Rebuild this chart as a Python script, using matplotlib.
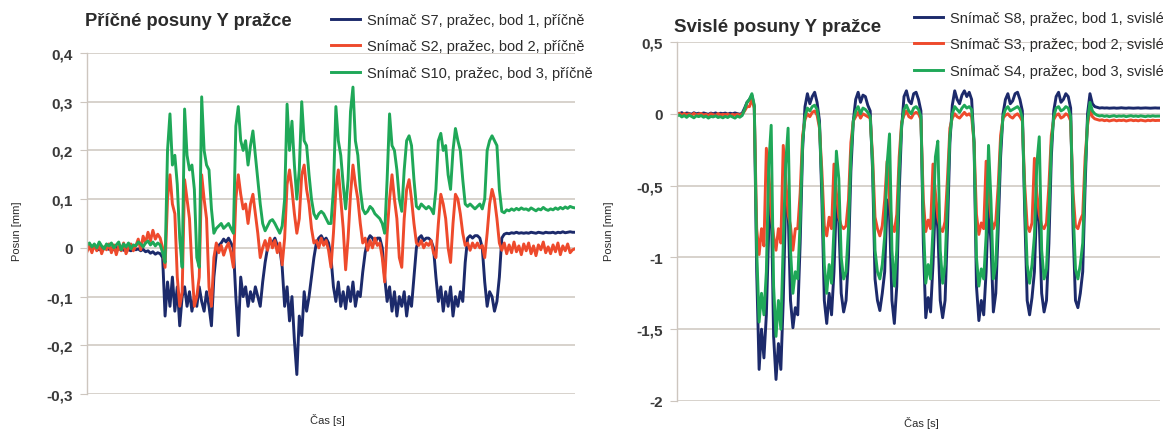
import numpy as np
import matplotlib
matplotlib.use("Agg")
import matplotlib.pyplot as plt

plt.rcParams['font.family'] = ['Liberation Sans', 'DejaVu Sans']

# ---------------- data ----------------
# time axis: position along the (unlabelled) time axis, in % of record length
n_samples = 201
time_pct = np.arange(n_samples) * 0.5

# Left chart – Příčné posuny Y pražce (mm)
s7_lat = [
    0.004, 0.000, -0.004, 0.002, -0.001, -0.004, 0.002, -0.002, 0.001, -0.003,
    0.000, -0.004, 0.002, -0.003, -0.001, -0.005, 0.000, -0.004, -0.006, -0.002,
    -0.004, -0.002, -0.006, -0.003, -0.008, -0.006, -0.011, -0.008, -0.013, -0.010,
    -0.012, -0.020, -0.14, -0.07, -0.12, -0.06, -0.13, -0.08, -0.16, -0.10,
    -0.08, -0.12, -0.09, -0.13, -0.10, -0.12, -0.08, -0.11, -0.13, -0.09,
    -0.12, -0.16, -0.06, -0.01, 0.005, 0.010, 0.018, 0.012, 0.020, 0.010,
    0.00, -0.10, -0.18, -0.06, -0.10, -0.08, -0.12, -0.09, -0.11, -0.08,
    -0.10, -0.12, -0.07, -0.03, 0.00, 0.015, 0.010, 0.020, 0.005, 0.000,
    -0.04, -0.12, -0.08, -0.15, -0.10, -0.19, -0.26, -0.14, -0.18, -0.09,
    -0.13, -0.10, -0.06, -0.02, 0.010, 0.020, 0.025, 0.015, 0.020, 0.010,
    -0.02, -0.08, -0.11, -0.07, -0.12, -0.09, -0.125, -0.08, -0.11, -0.07,
    -0.12, -0.09, -0.10, -0.05, -0.01, 0.015, 0.025, 0.020, 0.010, 0.020,
    0.020, 0.000, -0.06, -0.11, -0.08, -0.13, -0.09, -0.14, -0.10, -0.12,
    -0.09, -0.14, -0.10, -0.12, -0.06, 0.000, 0.020, 0.025, 0.015, 0.020,
    0.020, 0.015, 0.000, -0.06, -0.11, -0.08, -0.13, -0.09, -0.12, -0.08,
    -0.14, -0.10, -0.12, -0.09, -0.11, -0.03, 0.020, 0.025, 0.020, 0.025,
    0.025, 0.020, 0.000, -0.07, -0.12, -0.09, -0.10, -0.13, -0.11, -0.06,
    0.020, 0.028, 0.030, 0.029, 0.031, 0.030, 0.032, 0.030, 0.031, 0.030,
    0.031, 0.030, 0.032, 0.031, 0.030, 0.032, 0.031, 0.030, 0.032, 0.031,
    0.031, 0.032, 0.030, 0.032, 0.031, 0.033, 0.031, 0.032, 0.033, 0.032,
    0.032,
]
s2_lat = [
    -0.008, 0.004, -0.010, 0.006, -0.006, 0.008, -0.012, 0.002, -0.004, 0.008,
    -0.010, 0.006, -0.014, 0.004, -0.006, 0.010, -0.012, 0.000, 0.008, -0.006,
    0.004, 0.018, -0.004, 0.024, 0.010, 0.032, 0.014, 0.036, 0.018, 0.028,
    0.020, 0.000, -0.04, 0.10, 0.15, 0.09, 0.07, -0.06, -0.12, -0.09,
    0.14, 0.10, 0.06, -0.04, -0.12, -0.10, -0.06, 0.15, 0.10, 0.06,
    -0.08, -0.12, -0.02, 0.010, -0.010, 0.005, -0.015, 0.000, 0.010, -0.010,
    -0.04, 0.10, 0.15, 0.11, 0.08, 0.09, 0.05, 0.09, 0.11, 0.07,
    0.03, -0.02, 0.000, 0.015, -0.005, 0.020, 0.000, 0.015, -0.010, 0.010,
    -0.035, 0.02, 0.13, 0.16, 0.12, 0.07, 0.03, 0.06, 0.15, 0.17,
    0.12, 0.09, 0.04, 0.010, 0.015, 0.000, 0.020, 0.005, 0.015, -0.005,
    -0.04, 0.03, 0.12, 0.16, 0.10, 0.04, -0.045, 0.02, 0.11, 0.17,
    0.13, 0.10, 0.05, 0.010, 0.020, -0.005, 0.015, 0.000, 0.020, 0.005,
    0.010, -0.02, -0.07, 0.03, 0.10, 0.15, 0.10, 0.06, -0.02, -0.04,
    0.06, 0.12, 0.14, 0.10, 0.05, 0.010, 0.005, 0.015, 0.000, 0.010,
    0.005, 0.015, -0.010, -0.02, 0.05, 0.11, 0.09, 0.06, 0.00, -0.03,
    0.05, 0.11, 0.10, 0.07, 0.03, 0.005, 0.010, -0.005, 0.010, 0.000,
    0.010, 0.000, 0.005, -0.02, 0.03, 0.09, 0.12, 0.10, 0.06, 0.010,
    -0.005, 0.010, -0.012, 0.006, -0.010, 0.012, -0.008, 0.004, -0.014, 0.008,
    -0.006, 0.010, -0.012, 0.004, -0.016, 0.006, -0.004, 0.012, -0.010, 0.002,
    -0.012, 0.006, -0.008, 0.010, -0.014, 0.004, -0.006, 0.008, -0.010, -0.004,
    -0.002,
]
s10_lat = [
    0.006, 0.010, 0.002, 0.008, 0.000, 0.012, 0.004, -0.002, 0.008, 0.004,
    0.010, 0.000, 0.006, 0.012, -0.004, 0.008, 0.002, 0.010, -0.002, 0.006,
    0.004, 0.012, 0.008, 0.002, 0.010, 0.014, 0.006, 0.012, 0.004, 0.010,
    0.006, -0.010, -0.030, 0.20, 0.275, 0.17, 0.19, 0.13, 0.02, -0.04,
    0.285, 0.19, 0.16, 0.17, 0.12, -0.02, -0.04, 0.31, 0.20, 0.17,
    0.16, 0.08, 0.03, 0.040, 0.045, 0.050, 0.040, 0.045, 0.050, 0.040,
    0.03, 0.25, 0.29, 0.22, 0.20, 0.22, 0.17, 0.21, 0.24, 0.19,
    0.14, 0.09, 0.05, 0.035, 0.045, 0.055, 0.058, 0.050, 0.040, 0.030,
    0.045, 0.10, 0.295, 0.20, 0.26, 0.17, 0.10, 0.16, 0.30, 0.22,
    0.21, 0.15, 0.10, 0.070, 0.060, 0.070, 0.075, 0.070, 0.060, 0.050,
    0.05, 0.12, 0.29, 0.22, 0.19, 0.13, 0.08, 0.14, 0.28, 0.33,
    0.22, 0.19, 0.12, 0.080, 0.070, 0.075, 0.085, 0.080, 0.070, 0.065,
    0.060, 0.050, 0.030, 0.14, 0.275, 0.21, 0.20, 0.16, 0.10, 0.075,
    0.16, 0.22, 0.23, 0.21, 0.14, 0.085, 0.080, 0.090, 0.085, 0.080,
    0.085, 0.080, 0.070, 0.12, 0.22, 0.235, 0.20, 0.21, 0.15, 0.12,
    0.20, 0.245, 0.22, 0.20, 0.14, 0.090, 0.085, 0.090, 0.085, 0.080,
    0.085, 0.090, 0.080, 0.10, 0.20, 0.22, 0.23, 0.22, 0.21, 0.12,
    0.075, 0.072, 0.078, 0.076, 0.080, 0.077, 0.081, 0.078, 0.082, 0.079,
    0.080, 0.077, 0.082, 0.079, 0.076, 0.080, 0.078, 0.083, 0.079, 0.077,
    0.080, 0.078, 0.082, 0.079, 0.083, 0.080, 0.084, 0.081, 0.085, 0.083,
    0.082,
]

# Right chart – Svislé posuny Y pražce (mm)
s8_vert = [
    0.005, 0.000, 0.008, -0.004, 0.006, 0.002, -0.003, 0.007, 0.000, 0.004,
    -0.002, 0.006, 0.001, -0.004, 0.005, 0.000, 0.006, -0.003, 0.004, 0.001,
    0.005, -0.002, 0.004, 0.000, 0.006, 0.001, -0.003, 0.004, 0.040, 0.080,
    0.10, 0.13, 0.05, -1.10, -1.78, -1.50, -1.70, -1.40, -0.80, -0.55,
    -1.55, -1.85, -1.60, -1.78, -1.30, -0.60, -0.65, -1.30, -1.49, -1.35,
    -1.40, -0.90, -0.25, 0.05, 0.14, 0.07, 0.12, 0.15, 0.08, -0.05,
    -0.60, -1.30, -1.46, -1.25, -1.40, -1.10, -0.60, -0.75, -1.25, -1.38,
    -1.30, -1.00, -0.40, -0.05, 0.10, 0.15, 0.08, 0.13, 0.12, 0.06,
    0.02, -0.40, -1.15, -1.30, -1.37, -1.25, -1.10, -0.60, -0.70, -1.30,
    -1.46, -1.20, -0.55, -0.10, 0.12, 0.16, 0.09, 0.07, 0.14, 0.15,
    0.10, 0.02, -0.90, -1.42, -1.28, -1.38, -1.05, -0.60, -0.80, -1.30,
    -1.42, -1.30, -0.80, -0.20, 0.06, 0.16, 0.10, 0.07, 0.13, 0.16,
    0.12, 0.15, 0.10, -0.20, -1.20, -1.44, -1.30, -1.40, -1.10, -0.60,
    -0.90, -1.38, -1.25, -0.80, -0.30, 0.00, 0.10, 0.14, 0.07, 0.09,
    0.14, 0.15, 0.10, 0.02, -0.70, -1.30, -1.40, -1.28, -1.10, -0.60,
    -0.75, -1.25, -1.38, -1.30, -0.90, -0.30, 0.02, 0.12, 0.15, 0.08,
    0.10, 0.14, 0.12, 0.04, -0.80, -1.30, -1.35, -1.25, -1.10, -0.50,
    0.00, 0.14, 0.07, 0.050, 0.045, 0.040, 0.042, 0.040, 0.041, 0.039,
    0.040, 0.041, 0.039, 0.040, 0.042, 0.040, 0.039, 0.041, 0.040, 0.039,
    0.040, 0.041, 0.039, 0.040, 0.041, 0.040, 0.039, 0.040, 0.041, 0.040,
    0.040,
]
s3_vert = [
    -0.005, 0.004, -0.010, 0.002, -0.006, 0.000, -0.012, 0.003, -0.008, -0.002,
    0.002, -0.008, -0.003, -0.012, 0.000, -0.006, -0.010, 0.001, -0.007, -0.004,
    -0.006, -0.002, -0.010, -0.004, -0.008, -0.003, -0.009, -0.002, 0.020, 0.050,
    0.05, 0.10, 0.04, -0.80, -0.98, -0.80, -0.92, -0.24, -0.40, -0.70,
    -0.85, -0.95, -0.80, -0.90, -0.22, -0.45, -0.70, -0.78, -0.95, -0.80,
    -0.80, -0.55, -0.15, -0.04, 0.00, -0.02, 0.01, 0.02, -0.01, -0.10,
    -0.40, -0.78, -0.85, -0.72, -0.80, -0.35, -0.55, -0.72, -0.78, -0.80,
    -0.78, -0.60, -0.20, -0.05, -0.02, 0.01, -0.03, 0.00, -0.01, -0.02,
    -0.03, -0.30, -0.72, -0.80, -0.85, -0.78, -0.60, -0.33, -0.60, -0.78,
    -0.82, -0.70, -0.30, -0.06, -0.01, 0.02, -0.02, -0.03, 0.00, 0.01,
    0.00, -0.04, -0.60, -0.82, -0.74, -0.80, -0.35, -0.55, -0.72, -0.80,
    -0.82, -0.75, -0.45, -0.10, -0.03, 0.00, -0.02, -0.03, -0.01, 0.01,
    -0.01, 0.00, -0.02, -0.20, -0.70, -0.84, -0.76, -0.80, -0.33, -0.55,
    -0.72, -0.80, -0.75, -0.50, -0.15, -0.03, -0.01, 0.00, -0.02, -0.03,
    -0.01, 0.00, -0.02, -0.05, -0.50, -0.78, -0.82, -0.76, -0.31, -0.55,
    -0.70, -0.78, -0.80, -0.76, -0.50, -0.15, -0.04, -0.01, 0.00, -0.03,
    -0.02, 0.00, -0.01, -0.05, -0.55, -0.78, -0.80, -0.74, -0.70, -0.30,
    -0.08, 0.03, -0.02, -0.035, -0.040, -0.045, -0.042, -0.048, -0.044, -0.050,
    -0.046, -0.043, -0.049, -0.045, -0.047, -0.044, -0.050, -0.046, -0.043, -0.048,
    -0.045, -0.049, -0.044, -0.047, -0.050, -0.045, -0.048, -0.044, -0.047, -0.046,
    -0.046,
]
s4_vert = [
    -0.015, -0.008, -0.022, -0.012, -0.025, -0.010, -0.018, -0.028, -0.014, -0.020,
    -0.012, -0.024, -0.016, -0.030, -0.018, -0.022, -0.014, -0.026, -0.020, -0.028,
    -0.018, -0.026, -0.014, -0.022, -0.030, -0.016, -0.024, -0.012, 0.030, 0.080,
    0.10, 0.14, 0.06, -0.95, -1.45, -1.25, -1.40, -1.10, -0.35, -0.08,
    -1.20, -1.55, -1.30, -1.50, -0.90, -0.35, -0.10, -0.95, -1.25, -1.10,
    -1.15, -0.75, -0.20, -0.02, 0.04, 0.02, 0.05, 0.06, 0.03, -0.08,
    -0.50, -1.05, -1.25, -1.05, -1.18, -0.80, -0.26, -0.45, -1.00, -1.15,
    -1.10, -0.80, -0.30, -0.05, 0.02, 0.05, 0.00, 0.04, 0.03, 0.01,
    -0.02, -0.35, -0.95, -1.10, -1.15, -1.05, -0.85, -0.35, -0.14, -0.95,
    -1.20, -0.95, -0.40, -0.08, 0.03, 0.06, 0.02, 0.00, 0.04, 0.05,
    0.03, -0.02, -0.75, -1.18, -1.05, -1.15, -0.80, -0.30, -0.19, -0.95,
    -1.18, -1.05, -0.60, -0.15, 0.00, 0.05, 0.03, 0.01, 0.04, 0.06,
    0.04, 0.05, 0.03, -0.20, -1.00, -1.20, -1.08, -1.15, -0.85, -0.22,
    -0.60, -1.15, -1.05, -0.65, -0.22, -0.02, 0.03, 0.05, 0.02, 0.03,
    0.04, 0.05, 0.03, -0.03, -0.60, -1.05, -1.18, -1.05, -0.85, -0.35,
    -0.16, -0.95, -1.15, -1.08, -0.70, -0.22, -0.02, 0.04, 0.05, 0.02,
    0.03, 0.05, 0.04, -0.02, -0.65, -1.08, -1.15, -1.05, -0.90, -0.40,
    -0.05, 0.08, 0.02, 0.000, -0.010, -0.015, -0.012, -0.018, -0.014, -0.020,
    -0.016, -0.013, -0.019, -0.015, -0.017, -0.014, -0.020, -0.016, -0.013, -0.018,
    -0.015, -0.019, -0.014, -0.017, -0.020, -0.015, -0.018, -0.014, -0.017, -0.016,
    -0.016,
]

lat_labels = ["Snímač S7, pražec, bod 1, příčně",
              "Snímač S2, pražec, bod 2, příčně",
              "Snímač S10, pražec, bod 3, příčně"]
vert_labels = ["Snímač S8, pražec, bod 1, svislé",
               "Snímač S3, pražec, bod 2, svislé",
               "Snímač S4, pražec, bod 3, svislé"]
lat_ticks = [-0.3, -0.2, -0.1, 0.0, 0.1, 0.2, 0.3, 0.4]
lat_ticklabels = ["-0,3", "-0,2", "-0,1", "0", "0,1", "0,2", "0,3", "0,4"]
vert_ticks = [-2.0, -1.5, -1.0, -0.5, 0.0, 0.5]
vert_ticklabels = ["-2", "-1,5", "-1", "-0,5", "0", "0,5"]

# ---------------- style ----------------
C_BLUE = "#1c2a6b"
C_RED = "#ee4a2c"
C_GREEN = "#1fa858"
GRID = "#cdc6bf"
TXT = "#2b2b2b"

W, H = 1163, 431
fig = plt.figure(figsize=(W / 100, H / 100), dpi=100)
fig.patch.set_facecolor("white")


def px_axes(x0, x1, y_top, y_bot):
    return fig.add_axes([x0 / W, 1 - y_bot / H, (x1 - x0) / W, (y_bot - y_top) / H])


def style_axes(ax, ticks, ticklabels, ylim):
    ax.set_xlim(0, 100)
    ax.set_ylim(*ylim)
    ax.set_yticks(ticks)
    ax.set_yticklabels(ticklabels)
    ax.set_xticks([])
    for side in ("top", "right", "bottom"):
        ax.spines[side].set_visible(False)
    ax.spines["left"].set_color(GRID)
    ax.spines["left"].set_linewidth(1.0)
    ax.yaxis.grid(True, color=GRID, linewidth=1.1)
    ax.set_axisbelow(True)
    ax.tick_params(axis="y", length=5, color=GRID, labelsize=11,
                   labelcolor=TXT, pad=5)
    for lab in ax.get_yticklabels():
        lab.set_fontweight("bold")
        lab.set_color("#3a3a3a")


# Left chart
axL = px_axes(87, 575, 54, 395)
style_axes(axL, lat_ticks, lat_ticklabels, (-0.3, 0.4))
lines_l = []
for vals, col, lab in zip([s7_lat, s2_lat, s10_lat], [C_BLUE, C_RED, C_GREEN], lat_labels):
    ln, = axL.plot(time_pct, vals, color=col, lw=2.1, label=lab, solid_joinstyle="round")
    lines_l.append(ln)

# Right chart
axR = px_axes(677, 1160, 43, 402)
style_axes(axR, vert_ticks, vert_ticklabels, (-2.0, 0.5))
lines_r = []
for vals, col, lab in zip([s8_vert, s3_vert, s4_vert], [C_BLUE, C_RED, C_GREEN], vert_labels):
    ln, = axR.plot(time_pct, vals, color=col, lw=2.1, label=lab, solid_joinstyle="round")
    lines_r.append(ln)

# titles
fig.text(85 / W, 1 - 22 / H, "Příčné posuny Y pražce", fontsize=13.2, fontweight="bold",
         color=TXT, va="center", ha="left")
fig.text(674 / W, 1 - 27 / H, "Svislé posuny Y pražce", fontsize=13.5, fontweight="bold",
         color=TXT, va="center", ha="left")

# legends
for lines, x0, y0 in ((lines_l, 331, 14), (lines_r, 914, 12)):
    fig.legend(handles=lines, loc="upper left", bbox_to_anchor=(x0 / W, 1 - y0 / H),
               frameon=False, fontsize=10.5, handlelength=2.0, handletextpad=0.5,
               labelspacing=0.85, borderpad=0, borderaxespad=0, labelcolor=TXT)

# axis labels
fig.text(17 / W, 1 - 231 / H, "Posun [mm]", rotation=90, fontsize=8, color=TXT,
         va="center", ha="center")
fig.text(609 / W, 1 - 231 / H, "Posun [mm]", rotation=90, fontsize=8, color=TXT,
         va="center", ha="center")
fig.text(327 / W, 1 - 420 / H, "Čas [s]", fontsize=8, color=TXT, va="center", ha="center")
fig.text(921 / W, 1 - 423 / H, "Čas [s]", fontsize=8, color=TXT, va="center", ha="center")

fig.savefig("out.png", dpi=100, facecolor="white")
